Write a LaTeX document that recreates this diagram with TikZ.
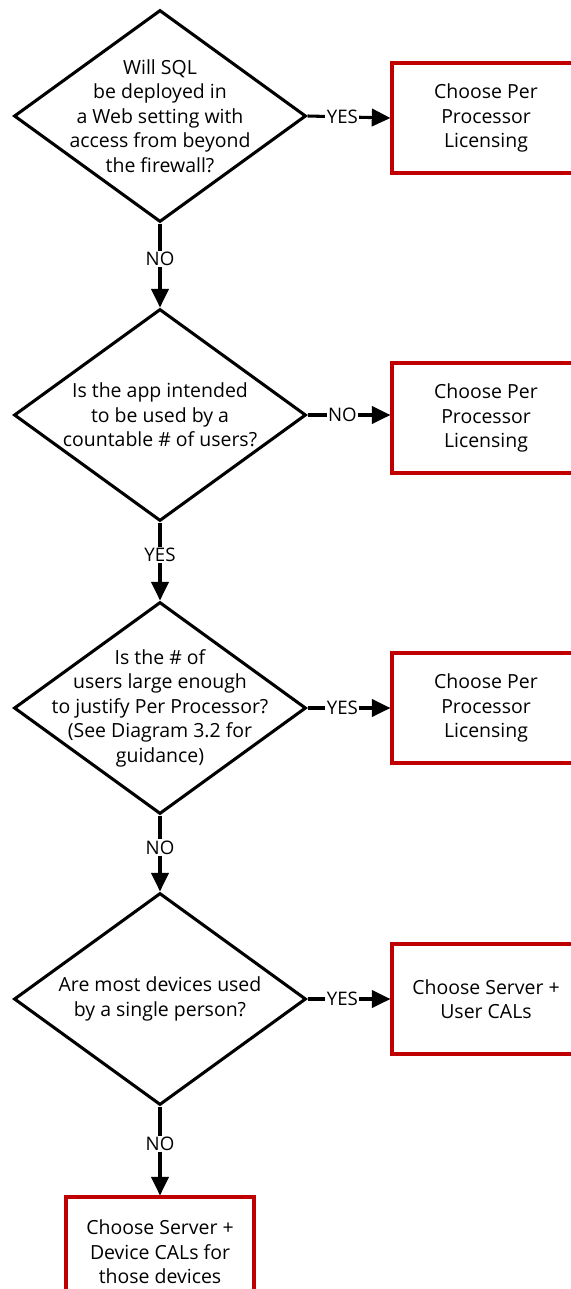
\documentclass[tikz,border=0pt]{standalone}
\usepackage{fontspec}
\setmainfont{Open Sans}
\usetikzlibrary{shapes.geometric,arrows.meta}
\definecolor{boxred}{RGB}{192,0,0}
\begin{document}
\begin{tikzpicture}[x=0.75pt,y=-0.75pt,line width=2.3pt]
\tikzstyle{decision}=[draw, diamond, inner sep=0pt, shape aspect=1.38,
    minimum width=219pt, minimum height=159pt,
    label={[align=center, font=\fontsize{14.6}{18.4}\selectfont]center:#1}]
\tikzstyle{choice}=[draw=boxred, rectangle, align=center,
    minimum width=141pt, minimum height=82.5pt,
    font=\fontsize{14.6}{18.4}\selectfont]
\tikzstyle{answer}=[fill=white, inner sep=1pt, pos=0.42,
    font=\fontsize{14}{16}\selectfont]
\tikzstyle{flow}=[-{Triangle[length=14pt,width=13pt]}]

\useasboundingbox (0,0) rectangle (571,1289);
\clip (0,0) rectangle (571,1289);

\node[decision={Will SQL\\be deployed in\\a Web setting with\\access from beyond\\the firewall?}] (A) at (160,116) {};
\node[decision={Is the app intended\\to be used by a\\countable \# of users?}] (B) at (160,415) {};
\node[decision={Is the \# of\\users large enough\\to justify Per Processor?\\(See Diagram 3.2 for\\guidance)}] (C) at (160,708) {};
\node[decision={Are most devices used\\by a single person?}] (D) at (160,999) {};

\node[choice] (P1) at (486,118) {Choose Per\\Processor\\Licensing};
\node[choice] (P2) at (486,418) {Choose Per\\Processor\\Licensing};
\node[choice] (P3) at (486,708) {Choose Per\\Processor\\Licensing};
\node[choice] (U) at (486,999) {Choose Server +\\User CALs};
\node[choice] (V) at (160,1252) {Choose Server +\\Device CALs for\\those devices};

\draw[flow] (A.east) -- (P1.west)
    node [answer] {YES};
\draw[flow] (A.south) -- (B.north)
    node [answer] {NO};
\draw[flow] (B.east) -- (P2.west |- B.east)
    node [answer] {NO};
\draw[flow] (B.south) -- (C.north)
    node [answer] {YES};
\draw[flow] (C.east) -- (P3.west)
    node [answer] {YES};
\draw[flow] (C.south) -- (D.north)
    node [answer] {NO};
\draw[flow] (D.east) -- (U.west)
    node [answer] {YES};
\draw[flow] (D.south) -- (V.north)
    node [answer] {NO};

\end{tikzpicture}
\end{document}
